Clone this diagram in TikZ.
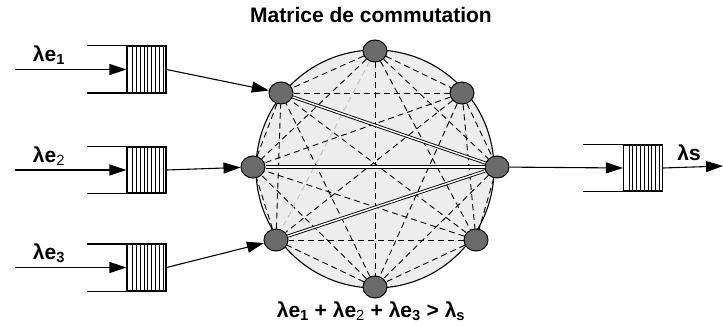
\documentclass[tikz,border=0pt]{standalone}
\usepackage{fontspec}
\setmainfont{Liberation Sans}
\usetikzlibrary{arrows.meta,positioning,shapes.geometric}
\definecolor{gris}{HTML}{6B6B6B}
\definecolor{fond}{HTML}{EDEDED}

\tikzset{
  port/.style={ellipse, draw, fill=gris, minimum width=24pt, minimum height=22pt, inner sep=0pt, line width=1pt},
  file/.style={draw, fill=white, minimum width=39pt, minimum height=46pt, inner sep=0pt, line width=1.1pt,
    path picture={\foreach \k in {0,...,8}{
      \pgfmathsetmacro{\xk}{5.5+\k*3.8}
      \draw[line width=0.8pt] ([xshift=\xk pt]path picture bounding box.south west) -- ([xshift=\xk pt]path picture bounding box.north west);}}},
  disque/.style={circle, draw, fill=fond, minimum size=238pt, inner sep=0pt, line width=1.1pt},
  rail/.style={line width=1.1pt},
  fleche/.style={line width=1.1pt, -{Triangle[length=17pt,width=11pt]}},
  lien/.style={dash pattern=on 6pt off 4pt, line width=0.9pt},
  voie/.style={double, double distance=1.4pt, line width=0.9pt},
  etiq/.style={font=\bfseries\fontsize{21}{24}\selectfont, inner sep=0pt}
}

\begin{document}
\begin{tikzpicture}[x=1pt, y=-1pt]
  \useasboundingbox (0,0) rectangle (723,326);

  % Titre
  \node[etiq] (titre) at (371,15) {Matrice de commutation};

  % Matrice
  \node[disque] (matrice) at (375,169) {};
  \node[port] (n1) at (375,51) {};
  \node[port] (n2) at (462,93) {};
  \node[port] (n3) at (497,167) {};
  \node[port] (n4) at (476,240) {};
  \node[port] (n5) at (375,287) {};
  \node[port] (n6) at (276,240) {};
  \node[port] (n7) at (253,167) {};
  \node[port] (n8) at (281,93) {};

  % Liens en pointilles
  \foreach \i in {1,...,7}{
    \pgfmathtruncatemacro{\debut}{\i+1}
    \foreach \j in {\debut,...,8}{
      \pgfmathtruncatemacro{\saut}{(\i==3 && \j>5) || (\i==1 && \j==6)}
      \ifnum\saut=0 \draw[lien] (n\i) -- (n\j); \fi
    }
  }
  \draw[lien, gray!50] (n1) -- (n6);

  % Chemins actifs
  \draw[voie] (n8) -- (n3);
  \draw[voie] (n7) -- (n3);
  \draw[voie] (n6) -- (n3);

  % Files d'entree
  \foreach \k/\y/\ind in {1/69.5/1, 2/170/{\mdseries 2}, 3/267.5/3}{
    \node[file] (file\k) at (146.5,\y) {};
    \draw[rail] (file\k.north east) -- ++(-80,0);
    \draw[rail] (file\k.south east) -- ++(-80,0);
    \coordinate (src\k) at (15,\y);
    \draw[fleche] (src\k) -- (file\k.west);
    \node[etiq] (le\k) at (49,\y-14) {λe\textsubscript{\ind}};
  }
  \draw[fleche] (file1.east) -- (n8);
  \draw[fleche] (file2.east) -- (n7);
  \draw[fleche] (file3.east) -- (n6);

  % File de sortie
  \node[file] (fileS) at (643,168) {};
  \draw[rail] (fileS.north east) -- ++(-80,0);
  \draw[rail] (fileS.south east) -- ++(-80,0);
  \draw[fleche] (n3) -- (fileS.west);
  \coordinate (sortie) at (723,166);
  \draw[fleche] (fileS.east) -- (sortie);
  \node[etiq] (ls) at (689,153) {λs};

  % Condition
  \node[etiq] (cond) at (371,311) {λe\textsubscript{1} + λe\textsubscript{\mdseries 2} + λe\textsubscript{3} > λ\textsubscript{s}};
\end{tikzpicture}
\end{document}
